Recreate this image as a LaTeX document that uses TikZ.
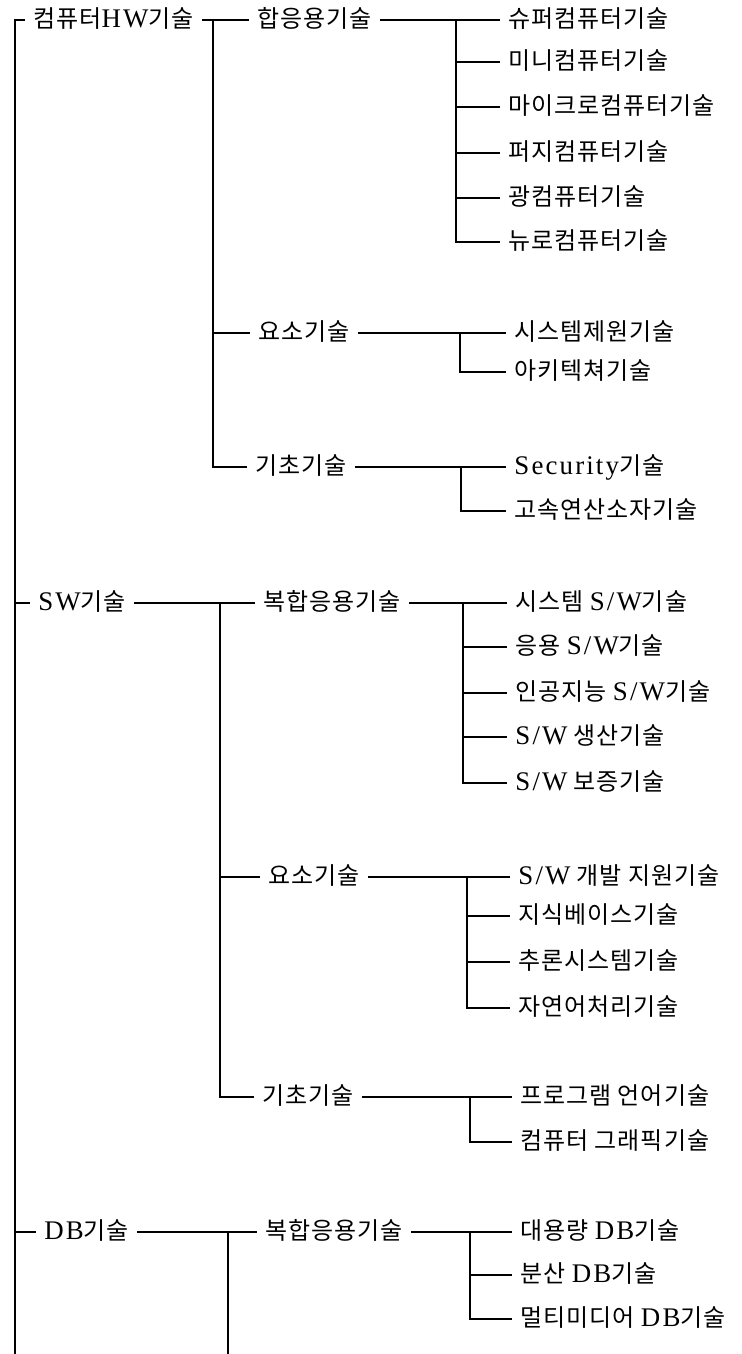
\documentclass[tikz,border=0pt]{standalone}
\usepackage{fontspec}
\setmainfont[LetterSpace=4]{Noto Sans CJK KR}
\newfontfamily\lat[Scale=1.12,LetterSpace=8]{Liberation Serif}
\tikzset{
  item/.style={anchor=west, inner xsep=4pt, inner ysep=0pt, text height=0.8em, text depth=0.05em, font=\fontsize{12}{14}\selectfont},
  line/.style={line width=0.8pt}
}
\begin{document}
\begin{tikzpicture}[x=0.5pt,y=-0.5pt]
\useasboundingbox (0,0) rectangle (741,1354);
% first level
\node[item] (hw) at (25,20) {컴퓨터{\lat HW}기술};
\node[item] (sw) at (30,603) {{\lat SW}기술};
\node[item] (db) at (36,1232) {{\lat DB}기술};
% second level
\node[item] (hw1) at (249,20) {합응용기술}; \node[item] (hw2) at (250,333) {요소기술}; \node[item] (hw3) at (247,467) {기초기술};
\node[item] (sw1) at (255,603) {복합응용기술}; \node[item] (sw2) at (260,877) {요소기술}; \node[item] (sw3) at (254,1097) {기초기술};
\node[item] (db1) at (257,1232) {복합응용기술};
% third level
\node[item] (hw11) at (500,20) {슈퍼컴퓨터기술}; \node[item] (hw12) at (500,62) {미니컴퓨터기술}; \node[item] (hw13) at (500,107) {마이크로컴퓨터기술};
\node[item] (hw14) at (500,153) {퍼지컴퓨터기술}; \node[item] (hw15) at (500,198) {광컴퓨터기술}; \node[item] (hw16) at (500,242) {뉴로컴퓨터기술};
\node[item] (hw21) at (506,333) {시스템제원기술}; \node[item] (hw22) at (506,372) {아키텍쳐기술};
\node[item] (hw31) at (506,467) {{\lat Security}기술}; \node[item] (hw32) at (506,511) {고속연산소자기술};
\node[item] (sw11) at (507,603) {시스템 {\lat S/W}기술}; \node[item] (sw12) at (507,647) {응용 {\lat S/W}기술}; \node[item] (sw13) at (507,693) {인공지능 {\lat S/W}기술};
\node[item] (sw14) at (507,737) {{\lat S/W} 생산기술}; \node[item] (sw15) at (507,783) {{\lat S/W} 보증기술};
\node[item] (sw21) at (510,877) {{\lat S/W} 개발 지원기술}; \node[item] (sw22) at (510,916) {지식베이스기술}; \node[item] (sw23) at (510,962) {추론시스템기술}; \node[item] (sw24) at (510,1008) {자연어처리기술};
\node[item] (sw31) at (512,1097) {프로그램 언어기술}; \node[item] (sw32) at (512,1142) {컴퓨터 그래픽기술};
\node[item] (db11) at (512,1232) {대용량 {\lat DB}기술}; \node[item] (db12) at (512,1275) {분산 {\lat DB}기술}; \node[item] (db13) at (512,1319) {멀티미디어 {\lat DB}기술};
% branch points
\coordinate (rtop) at (15,20); \coordinate (rbot) at (15,1354);
\coordinate (hwb) at (213,20); \coordinate (swb) at (220,603); \coordinate (dbb) at (228,1232); \coordinate (dbbot) at (228,1354);
\coordinate (hw1b) at (456,20); \coordinate (hw2b) at (460,333); \coordinate (hw3b) at (461,467);
\coordinate (sw1b) at (463,603); \coordinate (sw2b) at (467,877); \coordinate (sw3b) at (470,1097);
\coordinate (db1b) at (470,1232);
% connectors
\draw[line] (hw.west) -- (rtop) -- (rbot);
\draw[line] (rtop) |- (sw.west); \draw[line] (rtop) |- (db.west);
\draw[line] (hw.east) -- (hw1.west); \draw[line] (hwb) |- (hw2.west); \draw[line] (hwb) |- (hw3.west);
\draw[line] (sw.east) -- (sw1.west); \draw[line] (swb) |- (sw2.west); \draw[line] (swb) |- (sw3.west);
\draw[line] (db.east) -- (db1.west); \draw[line] (dbb) -- (dbbot);
\draw[line] (hw1.east) -- (hw11.west); \draw[line] (hw1b) |- (hw12.west); \draw[line] (hw1b) |- (hw13.west);
\draw[line] (hw1b) |- (hw14.west); \draw[line] (hw1b) |- (hw15.west); \draw[line] (hw1b) |- (hw16.west);
\draw[line] (hw2.east) -- (hw21.west); \draw[line] (hw2b) |- (hw22.west);
\draw[line] (hw3.east) -- (hw31.west); \draw[line] (hw3b) |- (hw32.west);
\draw[line] (sw1.east) -- (sw11.west); \draw[line] (sw1b) |- (sw12.west); \draw[line] (sw1b) |- (sw13.west);
\draw[line] (sw1b) |- (sw14.west); \draw[line] (sw1b) |- (sw15.west);
\draw[line] (sw2.east) -- (sw21.west); \draw[line] (sw2b) |- (sw22.west); \draw[line] (sw2b) |- (sw23.west); \draw[line] (sw2b) |- (sw24.west);
\draw[line] (sw3.east) -- (sw31.west); \draw[line] (sw3b) |- (sw32.west);
\draw[line] (db1.east) -- (db11.west); \draw[line] (db1b) |- (db12.west); \draw[line] (db1b) |- (db13.west);
\end{tikzpicture}
\end{document}
